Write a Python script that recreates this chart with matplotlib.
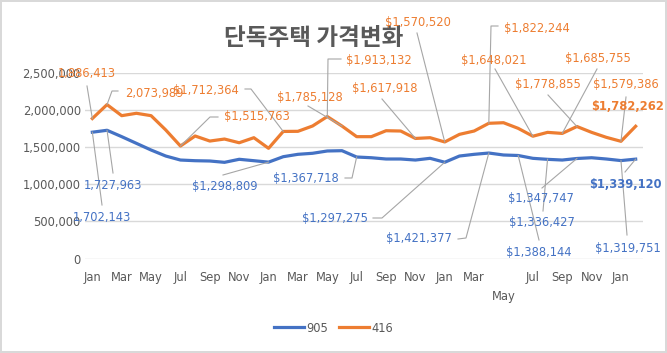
import matplotlib
matplotlib.use('Agg')
import matplotlib.pyplot as plt
import numpy as np

# monthly values, Jan (year 1) .. Feb (year 4)
month_names = ['Jan', 'Feb', 'Mar', 'Apr', 'May', 'Jun',
               'Jul', 'Aug', 'Sep', 'Oct', 'Nov', 'Dec']
n_months = 38
months = [month_names[i % 12] for i in range(n_months)]

series_905 = [1702143, 1727963, 1642000, 1552000, 1462000, 1381000, 1327000, 1318000,
              1314000, 1296000, 1337000, 1318000, 1298809, 1372000, 1404000, 1418000,
              1449000, 1453000, 1367718, 1358000, 1341000, 1341000, 1327000, 1350000,
              1297275, 1381000, 1404000, 1421377, 1395000, 1388144, 1350000, 1336427,
              1327000, 1347747, 1358000, 1341000, 1319751, 1339120]
series_416 = [1886413, 2073989, 1925000, 1957000, 1925000, 1732000, 1515763, 1651000,
              1583000, 1610000, 1560000, 1628000, 1485000, 1712364, 1714000, 1786000,
              1913132, 1785128, 1642000, 1642000, 1722000, 1718000, 1617918, 1628000,
              1570520, 1673000, 1718000, 1822244, 1830000, 1754000, 1648021, 1700000,
              1685755, 1778855, 1700000, 1633000, 1579386, 1782262]

title = '단독주택 가격변화'
BLUE = '#4472C4'
ORANGE = '#ED7D31'
GRAY = '#595959'
LEADER = '#A6A6A6'

W, H = 667, 353
fig = plt.figure(figsize=(W / 100, H / 100), dpi=100)
fig.patch.set_edgecolor('#D9D9D9')
fig.patch.set_linewidth(1.5)

ax = fig.add_axes([85 / W, (H - 258.5) / H, (643 - 85) / W, (258.5 - 73) / H])
x = np.arange(n_months)
ax.plot(x, series_905, color=BLUE, lw=2.3, solid_joinstyle='round', label='905', zorder=3)
ax.plot(x, series_416, color=ORANGE, lw=2.3, solid_joinstyle='round', label='416', zorder=3)

ax.set_xlim(-0.5, n_months - 0.5)
ax.set_ylim(0, 2500000)
ax.set_yticks(np.arange(0, 2500001, 500000))
ax.set_yticklabels([f'{v:,}' for v in range(0, 2500001, 500000)])
ax.grid(axis='y', color='#D9D9D9', lw=1)
ax.set_axisbelow(True)
for s in ax.spines.values():
    s.set_visible(False)
ax.tick_params(axis='y', length=0, pad=3, labelsize=8.3, labelcolor=GRAY)

tick_idx = list(range(0, n_months, 2))
ax.set_xticks(tick_idx)
ax.set_xticklabels([months[i] for i in tick_idx])
ax.tick_params(axis='x', length=0, pad=9, labelsize=8.3, labelcolor=GRAY)
# Excel staggered one label
for lbl, i in zip(ax.get_xticklabels(), tick_idx):
    if i == 28:
        lbl.set_y(-0.1)

fig.text(314 / W, 1 - 38 / H, title, ha='center', va='center', fontsize=17,
         fontweight='bold', color=GRAY, family=['Noto Sans CJK KR', 'DejaVu Sans'])

# data labels: series, index, prefix, text centre (px from top-left), leader path (px), bold
labels = [
    ('416', 0, '', (87, 74), [(87, 86)], False),
    ('416', 1, '', (154, 93), [(118, 91), (112, 91)], False),
    ('416', 6, '$', (257, 117), [(218, 117), (210, 117)], False),
    ('416', 13, '$', (206, 90), [(245, 89), (251, 89)], False),
    ('416', 17, '$', (310, 97), [(308, 106)], False),
    ('416', 16, '$', (379, 60), [(341, 59), (328, 59)], False),
    ('416', 22, '$', (385, 88), [(382, 99)], False),
    ('416', 24, '$', (418, 23), [(417, 33)], False),
    ('416', 27, '$', (537, 28), [(498, 26), (491, 26)], False),
    ('416', 30, '$', (494, 61), [(495, 69)], False),
    ('416', 32, '$', (598, 58), [(597, 69)], False),
    ('416', 33, '$', (548, 84), [(548, 95)], False),
    ('416', 36, '$', (626, 84), [(626, 97)], False),
    ('416', 37, '$', (628, 107), [], True),
    ('905', 0, '', (102, 217), [(102, 205)], False),
    ('905', 1, '', (113, 185), [(113, 173)], False),
    ('905', 12, '$', (225, 187), [(223, 175)], False),
    ('905', 18, '$', (306, 179), [(345, 178), (352, 178)], False),
    ('905', 24, '$', (335, 218), [(373, 218), (382, 218)], False),
    ('905', 27, '$', (419, 239), [(458, 239), (466, 238)], False),
    ('905', 29, '$', (539, 252), [(539, 240)], False),
    ('905', 33, '$', (541, 199), [(542, 188)], False),
    ('905', 31, '$', (542, 222), [(543, 211)], False),
    ('905', 36, '$', (628, 248), [(627, 235)], False),
    ('905', 37, '$', (625, 185), [(625, 172)], True),
]
data = {'905': series_905, '416': series_416}
colors = {'905': BLUE, '416': ORANGE}

fig.canvas.draw()
for name, i, prefix, (tx, ty), path, bold in labels:
    v = data[name][i]
    fig.text(tx / W, 1 - ty / H, f'{prefix}{v:,}', ha='center', va='center',
             fontsize=8.3, color=colors[name], fontweight='bold' if bold else 'normal',
             zorder=5)
    if path:
        px, py = ax.transData.transform((i, v))
        pts = [(p[0], H - p[1]) for p in path] + [(px, py)]
        xs = [p[0] / W for p in pts]
        ys = [p[1] / H for p in pts]
        fig.add_artist(plt.Line2D(xs, ys, color=LEADER, lw=0.8, transform=fig.transFigure,
                                  zorder=4))

fig.legend(loc='center', bbox_to_anchor=(0.5, 1 - 328 / H), ncol=2, frameon=False,
           fontsize=8.3, labelcolor=GRAY, handlelength=2.6, handletextpad=0.2,
           columnspacing=1.0)

fig.savefig('out.png', dpi=100)
